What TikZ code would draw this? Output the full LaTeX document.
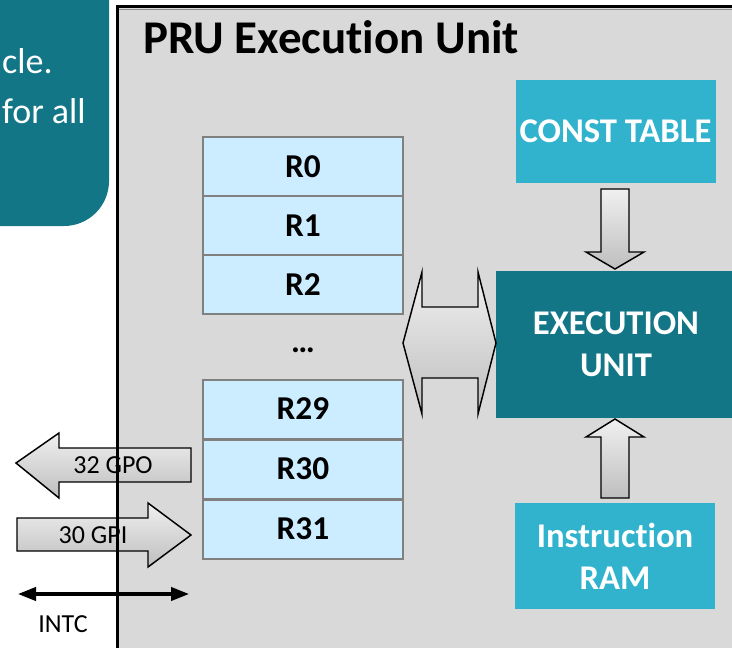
\documentclass[tikz,border=0pt]{standalone}
\usepackage{fontspec}
\setmainfont{Carlito}[Ligatures=NoCommon]
\usetikzlibrary{arrows.meta}

\definecolor{tealdark}{RGB}{19,118,135}
\definecolor{teallight}{RGB}{49,179,206}
\definecolor{regfill}{RGB}{204,236,255}
\definecolor{regborder}{RGB}{128,128,128}
\definecolor{unitbg}{RGB}{217,217,217}
\definecolor{arrowtop}{RGB}{240,240,240}
\definecolor{arrowbot}{RGB}{190,190,190}

\tikzset{
  regbox/.style={draw=regborder, line width=1.5pt, fill=regfill,
    minimum width=150pt, minimum height=44.25pt, inner sep=0pt, outer sep=0pt,
    font=\bfseries\fontsize{25}{28}\selectfont},
  unitbox/.style={inner sep=0pt, outer sep=0pt, text=white, align=center,
    font=\bfseries\fontsize{26}{31.5}\selectfont},
  blockarrow/.style={draw=black, line width=1.1pt, line join=miter,
    top color=arrowtop, bottom color=arrowbot},
  smalllabel/.style={inner sep=0pt, font=\fontsize{19.5}{22}\selectfont},
  notetext/.style={inner sep=0pt, text=white, font=\fontsize{27}{32}\selectfont},
}

\begin{document}
\begin{tikzpicture}[x=0.75pt, y=-0.75pt]
\useasboundingbox (0,0) rectangle (732,647);
\clip (0,0) rectangle (732,647);
\fill[white] (0,0) rectangle (732,647);

% note panel with a rounded lower corner
\fill[tealdark] (-10,-10) -- (109,-10) -- (109,181)
  arc[start angle=0, end angle=90, radius=45] -- (-10,226) -- cycle;
\node[notetext, anchor=base east] (note1) at (53,73) {cle.};
\node[notetext, anchor=base east] (note2) at (86,123) {for all};

% execution unit frame
\fill[unitbg] (117,6) rectangle (740,660);
\draw[black!45, line width=0.8pt] (119,9.5) -- (740,9.5);

\node[inner sep=0pt, anchor=base west, font=\bfseries\fontsize{35.2}{38}\selectfont]
  (title) at (143,53) {PRU Execution Unit};

% register file
\node[regbox] (r0)  at (303,166.5) {R0};
\node[regbox] (r1)  at (303,225.5) {R1};
\node[regbox] (r2)  at (303,284.5) {R2};
\node[inner sep=0pt, font=\bfseries\fontsize{25}{28}\selectfont] (dots) at (303,350) {…};
\node[regbox] (r29) at (303,409) {R29};
\node[regbox] (r30) at (303,469) {R30};
\node[regbox] (r31) at (303,529) {R31};

% functional blocks
\node[unitbox, fill=teallight, minimum width=150pt, minimum height=77.25pt]
  (ct) at (615.5,131.5) {CONST TABLE};
\node[unitbox, fill=tealdark, minimum width=180pt, minimum height=110.25pt]
  (eu) at (616,344.5) {EXECUTION\\UNIT};
\node[unitbox, fill=teallight, minimum width=150pt, minimum height=79.5pt]
  (ir) at (615,556) {Instruction\\RAM};

% block arrows between the blocks
\coordinate (dntip) at (615,269);
\coordinate (uptip) at (615,419);
\coordinate (bustip) at (403,343);
\draw[blockarrow] (dntip) -- ++(-29,-17) -- ++(15,0) -- ++(0,-63) -- ++(28,0)
  -- ++(0,63) -- ++(15,0) -- cycle;
\draw[blockarrow] (uptip) -- ++(-29,18) -- ++(15,0) -- ++(0,61) -- ++(28,0)
  -- ++(0,-61) -- ++(15,0) -- cycle;
\draw[blockarrow] (bustip) -- ++(19,-71) -- ++(0,35) -- ++(56,0) -- ++(0,-35)
  -- ++(18,71) -- ++(-18,71) -- ++(0,-36) -- ++(-56,0) -- ++(0,36) -- cycle;

% I/O arrows
\coordinate (gpotip) at (16,463);
\coordinate (gpitip) at (191,535);
\draw[blockarrow] (gpotip) -- ++(43,-30) -- ++(0,15) -- ++(132,0) -- ++(0,34)
  -- ++(-132,0) -- ++(0,16) -- cycle;
\draw[blockarrow] (gpitip) -- ++(-43,-32) -- ++(0,15) -- ++(-131,0) -- ++(0,33)
  -- ++(131,0) -- ++(0,16) -- cycle;

\draw[line width=2.25pt] (117,660) -- (117,6) -- (740,6);

\node[smalllabel, anchor=base] (gpo) at (113,473) {32 GPO};
\node[smalllabel, anchor=base] (gpi) at (93,543) {30 GPI};

\coordinate (intcl) at (18,594);
\coordinate (intcr) at (189,594);
\draw[line width=2.3pt, {Triangle[length=13.5pt,width=10pt]}-{Triangle[length=13.5pt,width=10pt]}]
  (intcl) -- (intcr);
\node[smalllabel, anchor=base] (intc) at (63,632) {INTC};
\end{tikzpicture}
\end{document}
